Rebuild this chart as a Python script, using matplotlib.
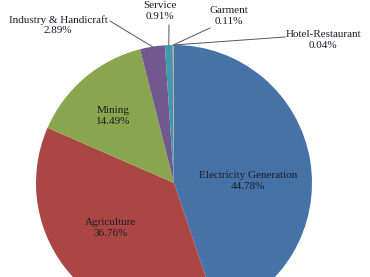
import numpy as np
import matplotlib
matplotlib.use("Agg")
import matplotlib.pyplot as plt

## Data (share of total, %)
sectors = ["Electricity Generation", "Agriculture", "Mining",
           "Industry & Handicraft", "Service", "Garment", "Hotel-Restaurant"]
shares = [44.78, 36.76, 14.49, 2.89, 0.91, 0.11, 0.04]
share_labels = ["44.78%", "36.76%", "14.49%", "2.89%", "0.91%", "0.11%", "0.04%"]
colors = ["#4572A7", "#AA4643", "#89A54E", "#71588F", "#4198AF", "#DB843D", "#93A9CF"]

W, H = 370, 277
cx, cy, R = 174, H - 183, 138

## label centres (pixel coords, y from top) and leader line start
label_pos = [(248, 181), (111, 228), (113, 116), (58, 25), (160, 11), (229, 16), (323, 40)]
leader_from = [None, None, None, (110, 21), (169, 25), (210, 28), (285, 37)]

fig = plt.figure(figsize=(W / 100, H / 100), dpi=100)
ax = fig.add_axes([0, 0, 1, 1])

wedges, _ = ax.pie(shares, colors=colors, startangle=90, counterclock=False,
                   center=(cx, cy), radius=R, frame=True,
                   wedgeprops=dict(edgecolor="none"))
ax.set_xlim(0, W)
ax.set_ylim(0, H)
ax.set_aspect("equal")
ax.axis("off")

for i, w in enumerate(wedges):
	x, y = label_pos[i]
	ax.text(x, H - y, sectors[i] + "\n" + share_labels[i], ha="center", va="center",
		fontsize=8, family="Liberation Serif", color="#1c1c28", linespacing=1.2)
	if leader_from[i] is not None:
		ang = np.deg2rad(0.5 * (w.theta1 + w.theta2))
		ex, ey = cx + R * np.cos(ang), cy + R * np.sin(ang)
		lx, ly = leader_from[i]
		ax.plot([lx, ex], [H - ly, ey], color="#555555", lw=0.7)

fig.savefig("out.png", dpi=100, facecolor="white")
